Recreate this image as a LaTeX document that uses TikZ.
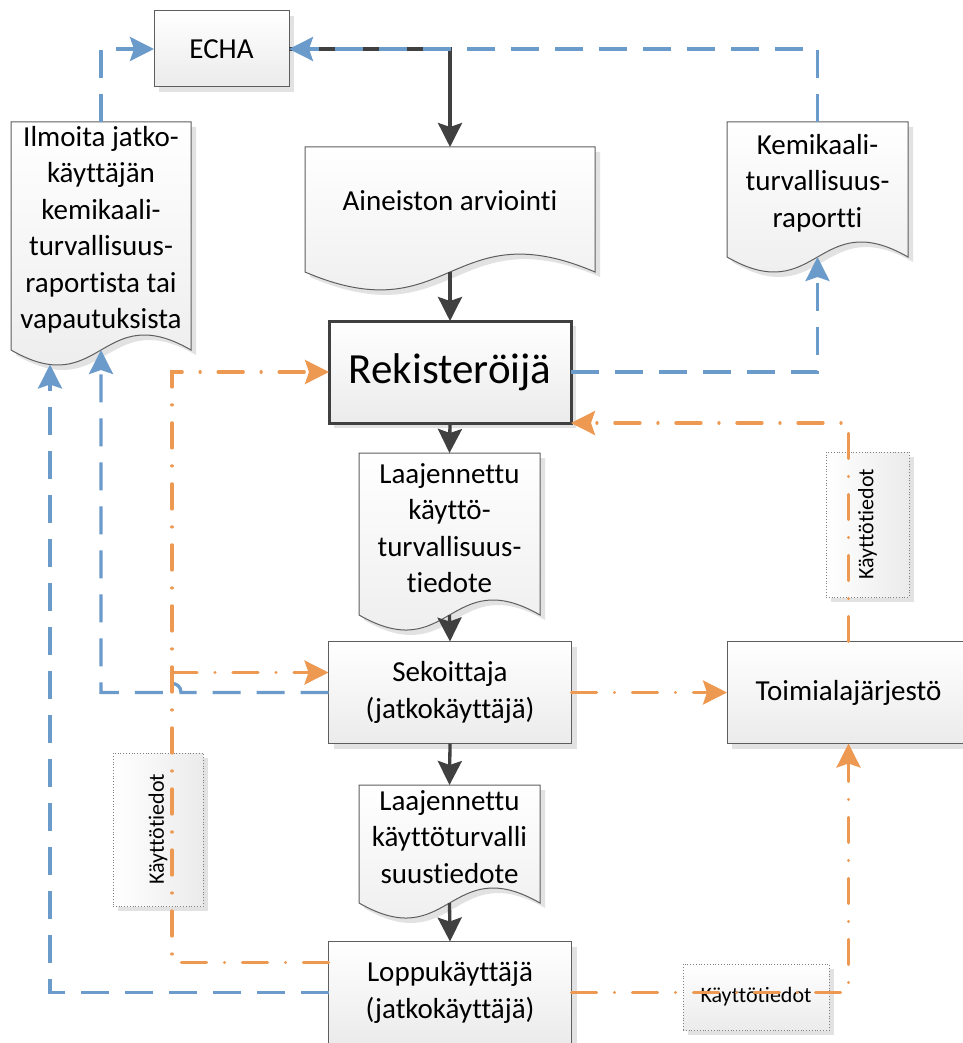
\documentclass[tikz,border=0pt]{standalone}
\usepackage{fontspec}
\setmainfont{Carlito}[Ligatures={NoCommon,NoRequired,NoContextual}]
\usetikzlibrary{arrows.meta,calc,shadows}
\definecolor{blc}{RGB}{106,155,203}
\definecolor{orc}{RGB}{237,153,82}
\definecolor{dkc}{RGB}{64,64,64}
\definecolor{bdc}{RGB}{94,94,94}
\definecolor{shc}{RGB}{226,226,226}
\definecolor{flc}{RGB}{235,235,235}
\newcommand\docshape[2]{%
  \fill[shc] ([shift={(5,5)}]#1.north west) -- ([shift={(5,5)}]#1.north east) -- ([shift={(5,5)}]#1.south east) .. controls ([shift={(5,5-#2)}]#1.south) and ([shift={(5,5+#2)}]#1.south) .. ([shift={(5,5)}]#1.south west) -- cycle;
  \path[draw=bdc, line width=1pt, top color=white, bottom color=flc] (#1.north west) -- (#1.north east) -- (#1.south east) .. controls ([shift={(0,-#2)}]#1.south) and ([shift={(0,#2)}]#1.south) .. (#1.south west) -- cycle;
}
\begin{document}
\begin{tikzpicture}[x=1pt,y=-1pt,
 txt/.style={font=\fontsize{29}{36.5}\selectfont, align=center},
 procbox/.style={txt, draw=bdc, line width=1pt, top color=white, bottom color=flc, minimum width=243pt, minimum height=102pt, inner sep=0pt, outer sep=0pt, drop shadow={shadow xshift=5pt, shadow yshift=-5pt, fill=shc, opacity=1}},
 docbody/.style={inner sep=0pt, outer sep=0pt, draw=none},
 doctext/.style={txt, inner sep=0pt},
 labbox/.style={draw=gray, dotted, line width=0.8pt, inner sep=0pt, outer sep=0pt, font=\fontsize{22}{26}\selectfont, drop shadow={shadow xshift=5pt, shadow yshift=-5pt, fill=shc, opacity=1}},
 atip/.style={-{Stealth[length=24pt,width=24pt,inset=4pt]}},
 dkline/.style={draw=dkc, line width=3.3pt, atip},
 blline/.style={draw=blc, line width=3.3pt, dash pattern=on 28pt off 16pt},
 orline/.style={draw=orc, line width=3.3pt, line cap=round, dash pattern=on 25pt off 18pt on 0.01pt off 18pt},
]
\useasboundingbox (0,0) rectangle (962,1043);
\fill[white] (0,0) rectangle (962,1043);

% process boxes
\node[procbox, minimum width=135pt, minimum height=76pt] (echa) at (221.5,49) {ECHA};
\node[procbox, draw=dkc, line width=3pt, minimum width=242pt, minimum height=102pt, font=\fontsize{43}{50}\selectfont] (rek) at (450,372) {Rekisteröijä};
\node[procbox] (sek) at (450,692.5) {Sekoittaja\\(jatkokäyttäjä)};
\node[procbox] (lop) at (450,992.5) {Loppukäyttäjä\\(jatkokäyttäjä)};
\node[procbox] (toi) at (848.5,692.5) {Toimialajärjestö};

% documents
\node[docbody, minimum width=290pt, minimum height=125pt] (ain) at (450,209.5) {};
\docshape{ain}{62}
\node[doctext] (ain-t) at (450,201) {Aineiston arviointi};

\node[docbody, minimum width=180pt, minimum height=228pt] (ilm) at (101,236) {};
\docshape{ilm}{52}
\node[doctext] (ilm-t) at (101,230) {Ilmoita jatko-\\käyttäjän\\kemikaali-\\turvallisuus-\\raportista tai\\vapautuksista};

\node[docbody, minimum width=181pt, minimum height=135pt] (kem) at (817.5,189.5) {};
\docshape{kem}{52}
\node[doctext] (kem-t) at (817.5,183) {Kemikaali-\\turvallisuus-\\raportti};

\node[docbody, minimum width=181pt, minimum height=162pt] (laa1) at (449.5,534) {};
\docshape{laa1}{52}
\node[doctext] (laa1-t) at (449.5,528) {Laajennettu\\käyttö-\\turvallisuus-\\tiedote};

\node[docbody, minimum width=181pt, minimum height=118pt] (laa2) at (449.5,844) {};
\docshape{laa2}{52}
\node[doctext] (laa2-t) at (449.5,837) {Laajennettu\\käyttöturvalli\\suustiedote};

% labels
\node[labbox, left color=white, right color=flc, minimum width=90pt, minimum height=153pt] (labL) at (158,829.5) {\rotatebox{90}{Käyttötiedot}};
\node[labbox, left color=white, right color=flc, minimum width=83pt, minimum height=145pt] (labR) at (867.5,524.5) {\rotatebox{90}{Käyttötiedot}};
\node[labbox, top color=white, bottom color=flc, minimum width=146pt, minimum height=66pt] (labB) at (756,997) {Käyttötiedot};

% helper coordinates
\coordinate (ocol) at (172,0);
\coordinate (sekO) at ([yshift=20pt]sek.west);
\coordinate (lopO) at ([yshift=30pt]lop.west);
\coordinate (hopR) at (181,692.5);
\coordinate (hopL) at (163,692.5);
\coordinate (ilmLow) at ($(ilm.south west)+(39,14.5)$);

% dark flow
\draw[dkline] (echa.east) -| (ain.north);
\draw[dkline] (ain.south) -- (rek.north);
\draw[dkline] (rek.south) -- (laa1.north);
\draw[dkline] (laa1.south) -- (sek.north);
\draw[dkline] (sek.south) -- (laa2.north);
\draw[dkline] (laa2.south) -- (lop.north);

% blue dashed
\draw[blline, atip] (kem.north) |- (echa.east);
\draw[blline, atip] (ilm.north) |- (echa.west);
\draw[blline, atip] (rek.east) -| (kem.south);
\draw[blline, atip] (sek.west) -- (hopR) .. controls +(0,-12) and +(0,-12) .. (hopL) -| (ilm.south);
\draw[blline, atip] (lop.west) -| (ilmLow);

% orange dash-dot
\draw[orline, atip] (lopO) -| (rek.west -| ocol) -- (rek.west);
\draw[orline, atip] (sekO -| ocol) -- (sekO);
\draw[orline, atip] (sek.east) -- (toi.west);
\draw[orline, atip] (lop.east) -| (toi.south);
\draw[orline, atip] (toi.north) |- (rek.south east);
\end{tikzpicture}
\end{document}
